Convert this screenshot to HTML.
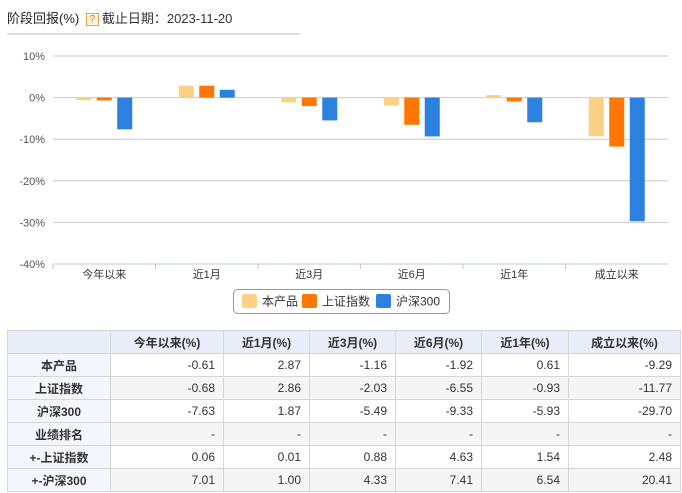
<!DOCTYPE html>
<html><head><meta charset="utf-8"><style>
body{margin:0;width:682px;height:493px;background:#fff;font-family:"Liberation Sans","Noto Sans CJK SC",sans-serif;overflow:hidden;position:relative}
.hd{position:absolute;left:7px;top:8px;font-size:13px;color:#333}
.hd b{font-weight:normal;color:#222}
.q{display:inline-block;width:11px;height:11px;border:1px solid #f0a040;background:#fff5e0;color:#e07000;font-size:10px;line-height:11px;text-align:center;vertical-align:1px;margin:0 3px}
.line{position:absolute;left:7px;top:33px;width:293px;height:2px;background:#ddd}
table{position:absolute;left:7px;top:330px;border-collapse:collapse;font-size:12px;color:#333}
td,th{border:1px solid #d6d6d6;height:22px;padding:0 8px}
th{background:#e8edf7;font-weight:bold;text-align:center}
td{text-align:right}
td.l{background:#f3f6fc;font-weight:bold;text-align:center}
tr.g td:not(.l){background:#f5f5f5}
</style></head><body>
<div class="hd"><b>阶段回报(%)</b> <span class="q">?</span>截止日期：2023-11-20</div>
<div class="line"></div>
<svg id="c" width="682" height="320" style="position:absolute;left:0;top:0"></svg>
<table>
<tr><th style="width:86px"></th><th style="width:96px">今年以来(%)</th><th style="width:69px">近1月(%)</th><th style="width:69px">近3月(%)</th><th style="width:69px">近6月(%)</th><th style="width:70px">近1年(%)</th><th style="width:95px">成立以来(%)</th></tr>
<tr><td class="l">本产品</td><td>-0.61</td><td>2.87</td><td>-1.16</td><td>-1.92</td><td>0.61</td><td>-9.29</td></tr>
<tr class="g"><td class="l">上证指数</td><td>-0.68</td><td>2.86</td><td>-2.03</td><td>-6.55</td><td>-0.93</td><td>-11.77</td></tr>
<tr><td class="l">沪深300</td><td>-7.63</td><td>1.87</td><td>-5.49</td><td>-9.33</td><td>-5.93</td><td>-29.70</td></tr>
<tr class="g"><td class="l">业绩排名</td><td>-</td><td>-</td><td>-</td><td>-</td><td>-</td><td>-</td></tr>
<tr><td class="l">+-上证指数</td><td>0.06</td><td>0.01</td><td>0.88</td><td>4.63</td><td>1.54</td><td>2.48</td></tr>
<tr class="g"><td class="l">+-沪深300</td><td>7.01</td><td>1.00</td><td>4.33</td><td>7.41</td><td>6.54</td><td>20.41</td></tr>
</table>
<script>
const categories=["今年以来","近1月","近3月","近6月","近1年","成立以来"];
const seriesNames=["本产品","上证指数","沪深300"];
const product=[-0.61,2.87,-1.16,-1.92,0.61,-9.29];
const shIndex=[-0.68,2.86,-2.03,-6.55,-0.93,-11.77];
const hs300=[-7.63,1.87,-5.49,-9.33,-5.93,-29.70];
const yTicks=[10,0,-10,-20,-30,-40];
const colors=["#fdd185","#ff7700","#2c80e0"];
const svg=document.getElementById('c'),NS="http://www.w3.org/2000/svg";
const X0=53,X1=668,Y10=56,YM40=264;
const y=v=>Y10+(10-v)*(YM40-Y10)/50;
const bw=(X1-X0)/categories.length;
function mk(t,a,txt){const e=document.createElementNS(NS,t);for(const k in a)e.setAttribute(k,a[k]);if(txt!=null)e.textContent=txt;svg.appendChild(e);return e;}
yTicks.forEach(t=>{
 const l=mk('line',{x1:X0,x2:X1,y1:y(t),y2:y(t),stroke:t===-40?'#b8c8e0':'#c8c8c8','stroke-width':1});
 
 
 const tx=mk('text',{x:45,y:y(t)+4,'text-anchor':'end','font-size':11,fill:'#555'},t+'%');
 
 
});
categories.forEach((c,i)=>{
 const tk=mk('line',{x1:X0+i*bw,x2:X0+i*bw,y1:y(-40),y2:y(-40)+5,stroke:'#b8c8e0'});
 
 
 const tx=mk('text',{x:X0+(i+0.5)*bw,y:278,'text-anchor':'middle','font-size':11,fill:'#333'},c);
 
 
});
[product,shIndex,hs300].forEach((s,k)=>{
 s.forEach((v,i)=>{
  const cx=X0+(i+0.5)*bw+(k-1)*20.5;
  const top=Math.min(y(v),y(0)),h=Math.max(Math.abs(y(v)-y(0)),1);
  const r=mk('rect',{x:cx-7.5,y:top,width:15,height:h,fill:colors[k]});
  
  
 });
});
const lb=mk('rect',{x:233.5,y:289.5,width:216,height:24,rx:4,fill:'#fff',stroke:'#999'});


const lx=[242,302,376];
seriesNames.forEach((n,k)=>{
 const sw=mk('rect',{x:lx[k],y:294,width:15,height:14,rx:2,fill:colors[k]});
 
 
 const t=mk('text',{x:lx[k]+20,y:305.5,'font-size':12,fill:'#333'},n);
 
 
});
</script>
</body></html>
